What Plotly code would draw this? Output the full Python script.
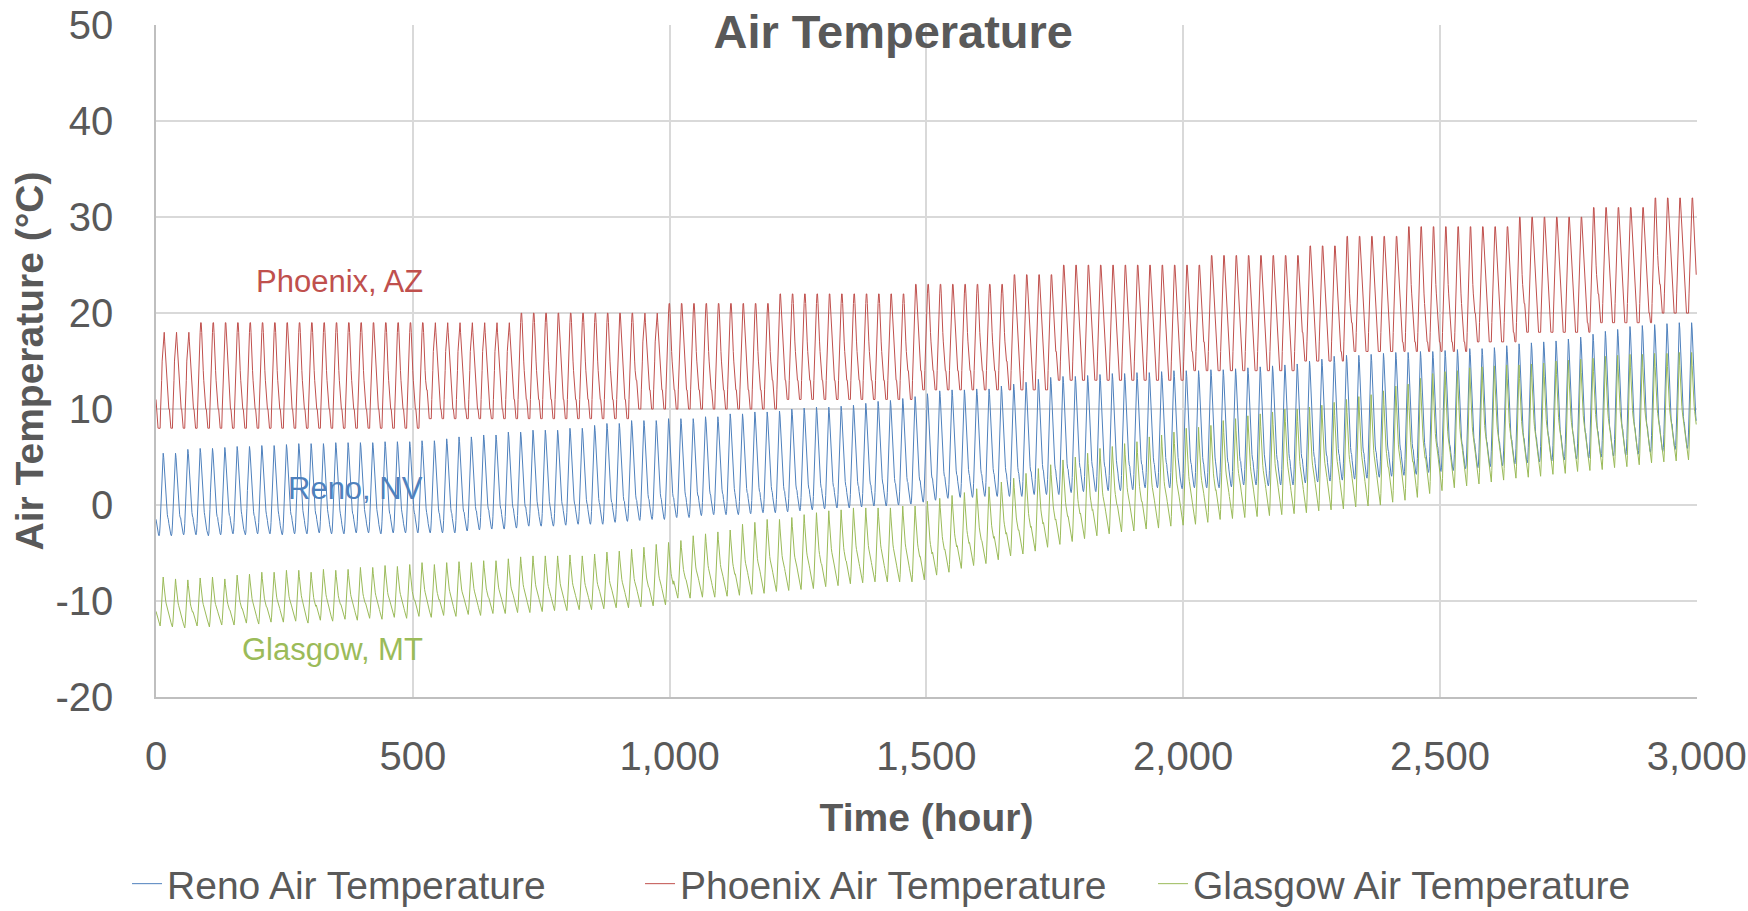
import numpy as np
import plotly.graph_objects as go

FONT = "Liberation Sans, Arial, sans-serif"
GREY = "#595959"

# Daily highs and lows (deg C) for 125 days = 3000 hourly records
phx_hi = [
    18, 18, 18, 19, 19, 19, 19, 19, 19, 19,
    19, 19, 19, 19, 19, 19, 19, 19, 19, 19,
    19, 19, 19, 19, 19, 19, 19, 19, 19, 20,
    20, 20, 20, 20, 20, 20, 20, 20, 20, 20,
    20, 21, 21, 21, 21, 21, 21, 21, 21, 21,
    22, 22, 22, 22, 22, 22, 22, 22, 22, 22,
    22, 23, 23, 23, 23, 23, 23, 23, 23, 24,
    24, 24, 24, 25, 25, 25, 25, 25, 25, 25,
    25, 25, 25, 25, 25, 26, 26, 26, 26, 26,
    26, 26, 26, 27, 27, 27, 28, 28, 28, 28,
    28, 29, 29, 29, 29, 29, 29, 29, 29, 29,
    30, 30, 30, 30, 30, 30, 31, 31, 31, 31,
    31, 32, 32, 32, 32,
]
phx_lo = [
    8, 8, 8, 8, 8, 8, 8, 8, 8, 8,
    8, 8, 8, 8, 8, 8, 8, 8, 8, 8,
    8, 8, 9, 9, 9, 9, 9, 9, 9, 9,
    9, 9, 9, 9, 9, 9, 9, 9, 9, 10,
    10, 10, 10, 10, 10, 10, 10, 10, 10, 10,
    10, 11, 11, 11, 11, 11, 11, 11, 11, 11,
    11, 11, 12, 12, 12, 12, 12, 12, 12, 12,
    12, 12, 12, 13, 13, 13, 13, 13, 13, 13,
    13, 13, 13, 13, 14, 14, 14, 14, 14, 14,
    14, 14, 14, 15, 15, 15, 15, 16, 16, 16,
    16, 16, 16, 16, 16, 16, 16, 17, 17, 17,
    17, 18, 18, 18, 18, 18, 18, 19, 19, 19,
    19, 19, 20, 20, 20,
]
reno_hi = [
    5.4, 5.4, 5.8, 5.9, 5.9, 6.0, 6.1, 6.1, 6.2, 6.2,
    6.3, 6.4, 6.4, 6.4, 6.5, 6.5, 6.5, 6.5, 6.6, 6.6,
    6.6, 6.7, 6.7, 6.9, 7.1, 7.1, 7.3, 7.3, 7.6, 7.6,
    7.8, 7.8, 7.8, 8.0, 8.0, 8.3, 8.5, 8.5, 8.8, 8.8,
    8.8, 9.0, 9.0, 9.0, 9.2, 9.2, 9.5, 9.5, 9.7, 9.7,
    9.8, 10.0, 10.1, 10.2, 10.2, 10.3, 10.4, 10.6, 10.8, 10.9,
    11.1, 11.3, 11.6, 11.9, 12.0, 12.0, 12.1, 12.1, 12.4, 12.6,
    12.8, 13.1, 13.3, 13.4, 13.4, 13.5, 13.6, 13.7, 13.7, 13.8,
    13.8, 13.9, 14.0, 14.0, 14.0, 14.1, 14.1, 14.2, 14.3, 14.4,
    14.5, 14.6, 14.7, 15.0, 15.2, 15.5, 15.6, 15.6, 15.7, 15.8,
    15.9, 15.9, 16.0, 16.0, 16.1, 16.2, 16.3, 16.3, 16.4, 16.6,
    16.8, 16.9, 17.0, 17.1, 17.3, 17.5, 17.8, 18.1, 18.3, 18.6,
    18.7, 18.8, 18.9, 19.0, 19.0,
]
reno_lo = [
    -3.2, -3.2, -3.1, -3.1, -3.2, -3.1, -3.0, -3.1, -3.0, -3.0,
    -3.1, -3.0, -3.0, -2.9, -3.0, -3.0, -2.9, -2.9, -3.0, -2.9,
    -2.9, -2.9, -2.9, -2.9, -2.9, -2.7, -2.6, -2.5, -2.5, -2.4,
    -2.2, -2.2, -2.2, -2.1, -2.0, -2.0, -2.0, -1.8, -1.7, -1.6,
    -1.5, -1.5, -1.3, -1.3, -1.1, -1.0, -1.0, -1.0, -0.9, -0.8,
    -0.8, -0.7, -0.6, -0.5, -0.4, -0.3, -0.3, -0.2, -0.1, -0.1,
    0.0, 0.1, 0.3, 0.5, 0.7, 0.8, 0.8, 0.9, 0.9, 0.9,
    0.9, 1.1, 1.1, 1.1, 1.3, 1.4, 1.4, 1.5, 1.5, 1.6,
    1.8, 1.8, 1.8, 1.7, 1.8, 1.8, 1.8, 1.9, 2.1, 2.1,
    2.0, 2.1, 2.1, 2.3, 2.4, 2.5, 2.6, 2.7, 2.8, 2.9,
    3.0, 3.1, 3.2, 3.4, 3.5, 3.6, 3.8, 3.9, 4.0, 4.1,
    4.3, 4.4, 4.5, 4.6, 4.7, 4.8, 4.9, 5.0, 5.1, 5.2,
    5.3, 5.5, 5.6, 5.8, 5.9,
]
gla_hi = [
    -7.5, -7.7, -7.8, -7.6, -7.5, -7.7, -7.3, -7.2, -7.0, -7.0,
    -6.8, -6.8, -7.0, -6.7, -6.8, -6.7, -6.5, -6.5, -6.3, -6.4,
    -6.2, -6.0, -6.2, -6.0, -5.9, -6.0, -5.8, -5.8, -5.6, -5.4,
    -5.3, -5.3, -5.3, -5.2, -5.3, -5.1, -4.9, -4.8, -4.6, -4.4,
    -4.1, -3.9, -3.7, -3.2, -3.0, -2.8, -2.6, -2.0, -1.8, -1.5,
    -1.5, -1.3, -1.0, -0.8, -0.6, -0.5, -0.3, -0.3, -0.3, -0.3,
    -0.1, -0.1, 0.4, 0.7, 1.0, 1.3, 1.7, 1.9, 2.4, 2.8,
    3.3, 3.8, 4.2, 4.7, 5.0, 5.4, 5.9, 6.1, 6.4, 6.6,
    7.1, 7.3, 7.6, 8.0, 8.1, 8.3, 8.8, 9.0, 9.3, 9.5,
    9.7, 10.0, 10.0, 10.2, 10.4, 10.7, 11.0, 11.3, 11.5, 11.9,
    12.4, 12.6, 13.2, 13.7, 13.9, 14.0, 14.3, 14.4, 14.5, 14.6,
    14.6, 14.7, 14.8, 15.0, 15.1, 15.2, 15.3, 15.5, 15.6, 15.7,
    15.7, 15.8, 15.8, 15.9, 15.9,
]
gla_lo = [
    -12.6, -12.7, -12.8, -12.6, -12.7, -12.5, -12.5, -12.3, -12.4, -12.2,
    -12.2, -12.1, -12.3, -12.0, -12.1, -11.9, -12.0, -11.8, -11.9, -11.7,
    -11.8, -11.6, -11.7, -11.5, -11.6, -11.4, -11.5, -11.3, -11.3, -11.2,
    -11.2, -11.1, -11.0, -11.0, -10.9, -10.9, -10.8, -10.7, -10.7, -10.6,
    -10.5, -10.4, -9.7, -9.7, -9.6, -9.6, -9.5, -9.4, -9.3, -9.2,
    -9.0, -8.9, -8.8, -8.7, -8.5, -8.4, -8.2, -8.1, -8.0, -8.0,
    -8.0, -8.0, -7.8, -7.3, -7.0, -6.6, -6.3, -6.1, -5.7, -5.3,
    -5.1, -4.8, -4.4, -4.1, -3.8, -3.5, -3.2, -3.0, -2.8, -2.7,
    -2.5, -2.4, -2.2, -2.1, -2.0, -1.8, -1.5, -1.4, -1.3, -1.2,
    -1.1, -1.0, -0.9, -0.8, -0.6, -0.5, -0.4, -0.2, -0.1, 0.0,
    0.3, 0.5, 0.8, 1.2, 1.5, 1.8, 2.0, 2.2, 2.4, 2.6,
    2.8, 2.9, 3.0, 3.2, 3.3, 3.5, 3.6, 3.7, 3.9, 4.0,
    4.2, 4.4, 4.5, 4.6, 4.7,
]

# Hourly shape of a day (0 = daily low, 1 = daily high), hours 0..23
phx_shape = [0.27, 0.21, 0.15, 0.09, 0.04, 0.0, 0.0, 0.0, 0.03, 0.17, 0.33, 0.5,
             0.66, 0.8, 0.92, 1.0, 0.97, 0.88, 0.77, 0.66, 0.56, 0.47, 0.39, 0.32]
reno_shape = [0.2, 0.15, 0.1, 0.06, 0.03, 0.01, 0.0, 0.03, 0.13, 0.3, 0.5, 0.68,
              0.83, 0.95, 1.0, 0.95, 0.84, 0.7, 0.57, 0.46, 0.38, 0.31, 0.26, 0.22]
gla_shape = [0.3, 0.26, 0.22, 0.18, 0.14, 0.1, 0.06, 0.03, 0.0, 0.1, 0.3, 0.52,
             0.74, 0.92, 1.0, 0.88, 0.74, 0.64, 0.56, 0.5, 0.45, 0.4, 0.36, 0.33]

hours = np.arange(0, 3000)
day = hours // 24
hod = hours % 24


def hourly(lo, hi, shape):
    lo = np.asarray(lo, float)[day]
    hi = np.asarray(hi, float)[day]
    return lo + (hi - lo) * np.asarray(shape)[hod]


reno = hourly(reno_lo, reno_hi, reno_shape)
phoenix = np.round(hourly(phx_lo, phx_hi, phx_shape))
glasgow = hourly(gla_lo, gla_hi, gla_shape)

x_ticks = [0, 500, 1000, 1500, 2000, 2500, 3000]
x_labels = ["0", "500", "1,000", "1,500", "2,000", "2,500", "3,000"]
y_ticks = [-20, -10, 0, 10, 20, 30, 40, 50]
y_labels = ["-20", "-10", "0", "10", "20", "30", "40", "50"]

series = [
    ("Reno Air Temperature", reno, "#4F81BD"),
    ("Phoenix Air Temperature", phoenix, "#C0504D"),
    ("Glasgow Air Temperature", glasgow, "#9BBB59"),
]

fig = go.Figure()
for name, vals, color in series:
    fig.add_trace(go.Scatter(x=hours, y=vals, mode="lines", name=name,
                             line=dict(color=color, width=1)))

labels = [
    ("Phoenix, AZ", 23.3, "#C0504D"),
    ("Reno, NV", 1.75, "#4F81BD"),
    ("Glasgow, MT", -15.0, "#9BBB59"),
]
for text, yv, color in labels:
    fig.add_annotation(x=523, y=yv, xref="x", yref="y", text=text,
                       showarrow=False, xanchor="right", yanchor="middle",
                       font=dict(family=FONT, size=31, color=color))

fig.update_layout(
    width=1748, height=911,
    margin=dict(l=156, r=51, t=25, b=214, autoexpand=False),
    plot_bgcolor="white", paper_bgcolor="white",
    font=dict(family=FONT, color=GREY, size=40),
    title=dict(text="<b>Air Temperature</b>", x=0.511, xanchor="center",
               y=1 - 32 / 911, yanchor="middle", yref="container",
               font=dict(family=FONT, size=47, color=GREY)),
    showlegend=True,
    legend=dict(orientation="h", x=-0.0188, xanchor="left",
                y=-0.278, yref="paper", yanchor="middle",
                entrywidth=468, entrywidthmode="pixels",
                font=dict(family=FONT, size=39, color=GREY),
                bgcolor="rgba(0,0,0,0)"),
)
fig.update_xaxes(
    range=[0, 3000.5], tickvals=x_ticks, ticktext=x_labels,
    automargin=False,
    showgrid=True, gridcolor="#D9D9D9", gridwidth=1.5,
    showline=True, linecolor="#BFBFBF", linewidth=1.5,
    zeroline=False, ticks="", ticklabelstandoff=23,
    tickfont=dict(family=FONT, size=40, color=GREY),
    title=dict(text="<b>Time (hour)</b>", standoff=27,
               font=dict(family=FONT, size=39, color=GREY)),
)
fig.update_yaxes(
    range=[-20, 50.02], tickvals=y_ticks, ticktext=y_labels,
    automargin=False,
    showgrid=True, gridcolor="#D9D9D9", gridwidth=1.5,
    showline=True, linecolor="#BFBFBF", linewidth=1.5,
    zeroline=False, ticks="", ticklabelstandoff=33,
    tickfont=dict(family=FONT, size=40, color=GREY),
    title=dict(text="<b>Air Temperature (°C)</b>", standoff=0,
               font=dict(family=FONT, size=39, color=GREY)),
)

fig.write_html("out.html")
